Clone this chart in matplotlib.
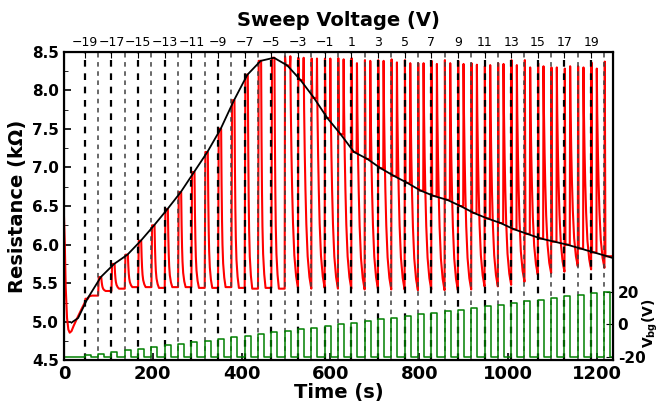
import matplotlib.pyplot as plt
from matplotlib.ticker import MultipleLocator

# sweep voltage of each back-gate pulse and the time the pulse starts (s)
sweep_v = list(range(-19, 21))
pulse_t = [47, 77, 107, 137, 167, 197, 227, 257, 287, 317,
           347, 377, 407, 437, 467, 497, 527, 557, 587, 617,
           647, 677, 707, 737, 767, 797, 827, 857, 887, 917,
           947, 977, 1007, 1037, 1067, 1097, 1127, 1157, 1187, 1217]

# resistance (kOhm) held during each pulse
hold_r = [5.30, 5.58, 5.75, 5.87, 6.05, 6.25, 6.46, 6.68, 6.94, 7.20,
          7.50, 7.87, 8.20, 8.38, 8.42, 8.32, 8.13, 7.90, 7.64, 7.43,
          7.20, 7.11, 6.99, 6.89, 6.80, 6.70, 6.63, 6.58, 6.50, 6.41,
          6.34, 6.28, 6.20, 6.14, 6.08, 6.04, 6.00, 5.95, 5.90, 5.85]
# resistance just before each pulse starts
before_r = [5.25, 5.34, 5.40, 5.43, 5.45, 5.45, 5.44, 5.45, 5.45, 5.44,
            5.44, 5.45, 5.44, 5.43, 5.44, 5.43, 5.44, 5.43, 5.44, 5.43,
            5.43, 5.42, 5.43, 5.42, 5.42, 5.41, 5.42, 5.41, 5.41, 5.42,
            5.46, 5.46, 5.48, 5.52, 5.61, 5.63, 5.65, 5.72, 5.68, 5.70]

# pulses crossing the Dirac point spike at switch-on and switch-off
spike_v = list(range(-4, 21))
spike_on = [8.44, 8.42, 8.41, 8.41,
            8.415, 8.415, 8.39, 8.39, 8.40, 8.39, 8.35, 8.38, 8.39, 8.38,
            8.35, 8.31, 8.35, 8.39, 8.39, 8.35, 8.295, 8.28, 8.31, 8.36, 8.37]
spike_off = [8.44, 8.42, 8.41, 8.41,
             8.40, 8.35, 8.38, 8.38, 8.36, 8.35, 8.35, 8.34, 8.35, 8.34,
             8.33, 8.325, 8.34, 8.325, 8.295, 8.31, 8.295, 8.31, 8.295, 8.28, 8.36]

# start of the trace before the first pulse
start_t = [0, 2, 4, 7, 10, 13, 17, 22, 30, 40]
start_r = [6.39, 6.0, 5.45, 5.05, 4.90, 4.86, 4.88, 4.95, 5.05, 5.17]

fast_decay_t = [0, 1, 2, 3, 4.5, 7, 10]
fast_decay_f = [1, 0.65, 0.42, 0.27, 0.15, 0.06, 0.0]
slow_decay_t = [0, 1, 2.5, 4, 6, 9, 13, 17.2]
slow_decay_f = [1, 0.78, 0.58, 0.43, 0.28, 0.14, 0.05, 0.0]

# black guide line
guide_t = [17, 32]
guide_r = [4.99, 5.05]
guide_end = (1234, 5.83)

vbg_ticks = [-20, 0, 20]
vbg_labels = ['-20', '0', '20']

pulse_len = 13.5
t_max = 1236

# build the red trace
red_t = list(start_t)
red_r = list(start_r)
n = len(sweep_v)
for i in range(n):
    t0 = pulse_t[i]
    nxt = before_r[i + 1] if i + 1 < n else before_r[i]
    red_t.append(t0)
    red_r.append(before_r[i])
    if sweep_v[i] in spike_v:
        k = spike_v.index(sweep_v[i])
        red_t += [t0 + 0.8, t0 + 2.2, t0 + 12]
        red_r += [spike_on[k], hold_r[i], hold_r[i]]
        if i + 1 == n:
            red_t.append(t_max)
            red_r.append(hold_r[i])
            break
        off = t0 + 12.8
        red_t.append(off)
        red_r.append(spike_off[k])
        for dt, f in zip(slow_decay_t[1:-1], slow_decay_f[1:-1]):
            red_t.append(off + dt)
            red_r.append(nxt + (spike_off[k] - nxt) * f)
    else:
        red_t += [t0 + 1.5, t0 + 7]
        red_r += [hold_r[i], hold_r[i]]
        for dt, f in zip(fast_decay_t[1:], fast_decay_f[1:]):
            red_t.append(t0 + 7 + dt)
            red_r.append(nxt + (hold_r[i] - nxt) * f)

# black line through the held values
blk_t = guide_t + [t + 6 for t in pulse_t] + [guide_end[0]]
blk_r = guide_r + hold_r + [guide_end[1]]

# green gate-voltage pulses
grn_t = [0]
grn_v = [-20]
for t0, v in zip(pulse_t, sweep_v):
    grn_t += [t0, t0, t0 + pulse_len, t0 + pulse_len]
    grn_v += [-20, v, v, -20]
grn_t.append(t_max)
grn_v.append(-20)

fig = plt.figure(figsize=(6.59, 4.03), dpi=100)
ax = fig.add_axes([0.097, 0.1055, 0.833, 0.7665])

ax.plot(red_t, red_r, color='red', lw=1.5, zorder=2)
for t0, v in zip(pulse_t, sweep_v):
    if v % 2:
        ax.axvline(t0, color='black', lw=1.6, ls=(0, (3, 3)), zorder=3)
    else:
        ax.axvline(t0, color='0.25', lw=1.1, ls=(0, (3, 3)), zorder=3)
ax.plot(blk_t, blk_r, color='black', lw=1.3, zorder=4)

ax.set_xlim(0, t_max)
ax.set_ylim(4.5, 8.5)
ax.xaxis.set_major_locator(MultipleLocator(200))
ax.yaxis.set_major_locator(MultipleLocator(0.5))
ax.yaxis.set_minor_locator(MultipleLocator(0.25))
ax.yaxis.set_ticks_position('both')
ax.tick_params(which='both', direction='in')
ax.tick_params(which='major', length=5, width=1.2)
ax.tick_params(which='minor', length=3)
ax.tick_params(axis='x', labelsize=13)
ax.tick_params(axis='y', labelsize=11)
for lab in ax.get_xticklabels() + ax.get_yticklabels():
    lab.set_fontweight('bold')
for s in ax.spines.values():
    s.set_linewidth(1.5)
ax.set_xlabel('Time (s)', fontsize=14, fontweight='bold', labelpad=0)
ax.set_ylabel('Resistance (k\u03a9)', fontsize=14, fontweight='bold', labelpad=4)

# gate voltage on the right
ax2 = ax.twinx()
ax2.plot(grn_t, grn_v, color='green', lw=1.1)
ax2.set_ylim(-22.2, 167)
ax2.set_yticks(vbg_ticks)
ax2.set_yticklabels(vbg_labels, fontweight='bold')
ax2.tick_params(direction='in', length=5, labelsize=11)
ax2.set_ylabel(r'$\mathbf{V_{bg}(V)}$', fontsize=10)
ax2.yaxis.set_label_coords(1.05, 0.12)
for s in ax2.spines.values():
    s.set_linewidth(1.5)

# sweep voltage on top
ax3 = ax.twiny()
ax3.set_xlim((0 - 617) / 30, (t_max - 617) / 30)
ax3.set_xticks(list(range(-19, 20, 2)))
ax3.tick_params(direction='in', length=4, labelsize=9, pad=2)
ax3.set_xlabel('Sweep Voltage (V)', fontsize=14, fontweight='bold', labelpad=7)

fig.savefig('out.png', dpi=100)
